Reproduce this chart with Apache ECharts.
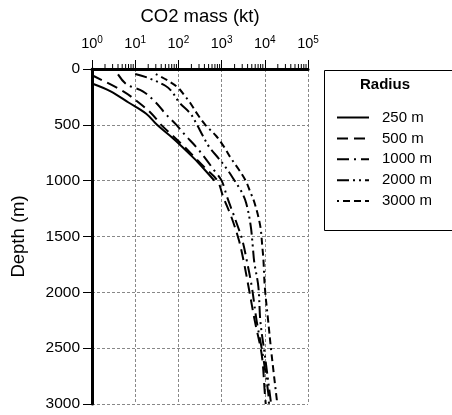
<!DOCTYPE html>
<html><head><meta charset="utf-8">
<script src="https://cdn.jsdelivr.net/npm/echarts@6/dist/echarts.min.js"></script>
<style>html,body{margin:0;padding:0;background:#fff}#c{width:452px;height:415px}</style>
</head><body><div id="c"></div>
<script>
// [CO2 mass (kt), depth (m)]
const r250 = [[1,130],[2.7,200],[7,300],[18,400],[32,500],[65,600],[125,700],[230,800],[400,900],[680,1000]];
const r500 = [[1,56],[5.3,200],[12,300],[24,400],[40,500],[75,600],[140,700],[250,800],[450,900],[800,1000],[1100,1150],[1700,1330],[2500,1530],[3200,1710],[4200,1950],[5900,2260],[8500,2560],[10000,2900],[10500,3000]];
const r1000 = [[4,48],[6.3,137],[15,200],[30,300],[50,400],[90,500],[150,600],[260,700],[420,800],[650,900],[1000,1000],[1350,1150],[2000,1330],[3000,1530],[3800,1710],[5000,1950],[6500,2260],[9000,2560],[12000,2900],[12500,3000]];
const r2000 = [[10,45],[20,80],[50,150],[70,200],[105,300],[190,400],[270,500],[370,600],[520,700],[850,800],[1350,900],[2000,1000],[2900,1100],[3700,1200],[4700,1400],[5300,1600],[5700,1730],[7100,1950],[7900,2260],[10000,2560],[14000,3000]];
const r3000 = [[30,45],[55,100],[100,170],[140,240],[185,300],[270,400],[420,500],[750,600],[1150,700],[1650,800],[2500,900],[3600,1000],[4600,1100],[5800,1200],[7800,1400],[8800,1600],[9300,1710],[10000,1950],[12000,2260],[14400,2560],[19500,3000]];
const seriesNames = ['250 m','500 m','1000 m','2000 m','3000 m'];
const xTickExponents = [0,1,2,3,4,5];
const yTicks = [0,500,1000,1500,2000,2500,3000];

const minorTicks = [];
for (let k = 0; k < 5; k++) for (let m = 2; m <= 9; m++) minorTicks.push([m*Math.pow(10,k), 0]);

const dashes = ['solid',[11,6],[12,5,2,5],[12,4,2,4,2,4],[2,4,7,4,7,4,7,4]];
const allData = [r250,r500,r1000,r2000,r3000];

const chart = echarts.init(document.getElementById('c'), null, {renderer:'canvas'});
const FONT = 'Liberation Sans';
const series = allData.map((d,i)=>({
  name: seriesNames[i], type:'line', data:d, symbol:'none', showSymbol:false, smooth:0.35,
  lineStyle:{color:'#000', width:2, type:dashes[i], cap:'butt'},
  itemStyle:{color:'#000'}, z:3
}));
series.push({
  type:'custom', coordinateSystem:'cartesian2d', data:minorTicks, clip:false, silent:true,
  encode:{x:0,y:1},
  renderItem:function(params, api){
    const p = api.coord([api.value(0), api.value(1)]);
    return {type:'line', shape:{x1:p[0],y1:p[1]-1,x2:p[0],y2:p[1]-5}, style:{stroke:'#000', lineWidth:1}};
  }
});
chart.setOption({
  animation:false,
  textStyle:{fontFamily:FONT},
  grid:{left:92, top:69, width:216, height:335, containLabel:false, outerBoundsMode:'none'},
  xAxis:{type:'log', logBase:10, min:1, max:100000, position:'top',
    name:'CO2 mass (kt)', nameLocation:'middle', nameGap:43,
    nameTextStyle:{fontSize:18.5, color:'#000', fontFamily:FONT},
    axisLine:{lineStyle:{color:'#000', width:3}},
    axisTick:{inside:false, length:9, lineStyle:{color:'#000', width:1}},
    axisLabel:{margin:16, color:'#000', fontFamily:FONT,
      formatter:function(v){ const e = Math.round(Math.log10(v)); return '{b|10}{s|'+e+'}'; },
      rich:{b:{fontSize:14.5, fontFamily:FONT, color:'#000'}, s:{fontSize:10, fontFamily:FONT, color:'#000', verticalAlign:'top', padding:[0,0,8,0]}}},
    splitLine:{show:true, lineStyle:{color:'#888', type:[3,2], width:1}}
  },
  yAxis:{type:'value', inverse:true, min:0, max:3000, interval:500,
    name:'Depth (m)', nameLocation:'middle', nameGap:64, nameRotate:90,
    nameTextStyle:{fontSize:18.5, color:'#000', fontFamily:FONT},
    axisLine:{lineStyle:{color:'#000', width:3}},
    axisTick:{length:9, lineStyle:{color:'#000', width:1}},
    axisLabel:{margin:12, fontSize:15.5, color:'#000', fontFamily:FONT, formatter:function(v){return String(v);}},
    splitLine:{show:true, lineStyle:{color:'#888', type:[3,2], width:1}}
  },
  legend:{data:seriesNames, orient:'vertical', left:331, top:105, itemWidth:32, itemHeight:14, itemGap:5.9,
    itemStyle:{opacity:0, borderWidth:0},
    textStyle:{fontSize:15, color:'#000', fontFamily:FONT, padding:[0,0,0,8]}, selectedMode:false},
  graphic:[
    {type:'rect', left:322, top:68, shape:{width:140, height:160}, style:{fill:'none', stroke:'#000', lineWidth:1}, z:0},
    {type:'text', left:360, top:77, style:{text:'Radius', font:'bold 15px '+FONT, fill:'#000'}}
  ],
  series:series
});
</script></body></html>
